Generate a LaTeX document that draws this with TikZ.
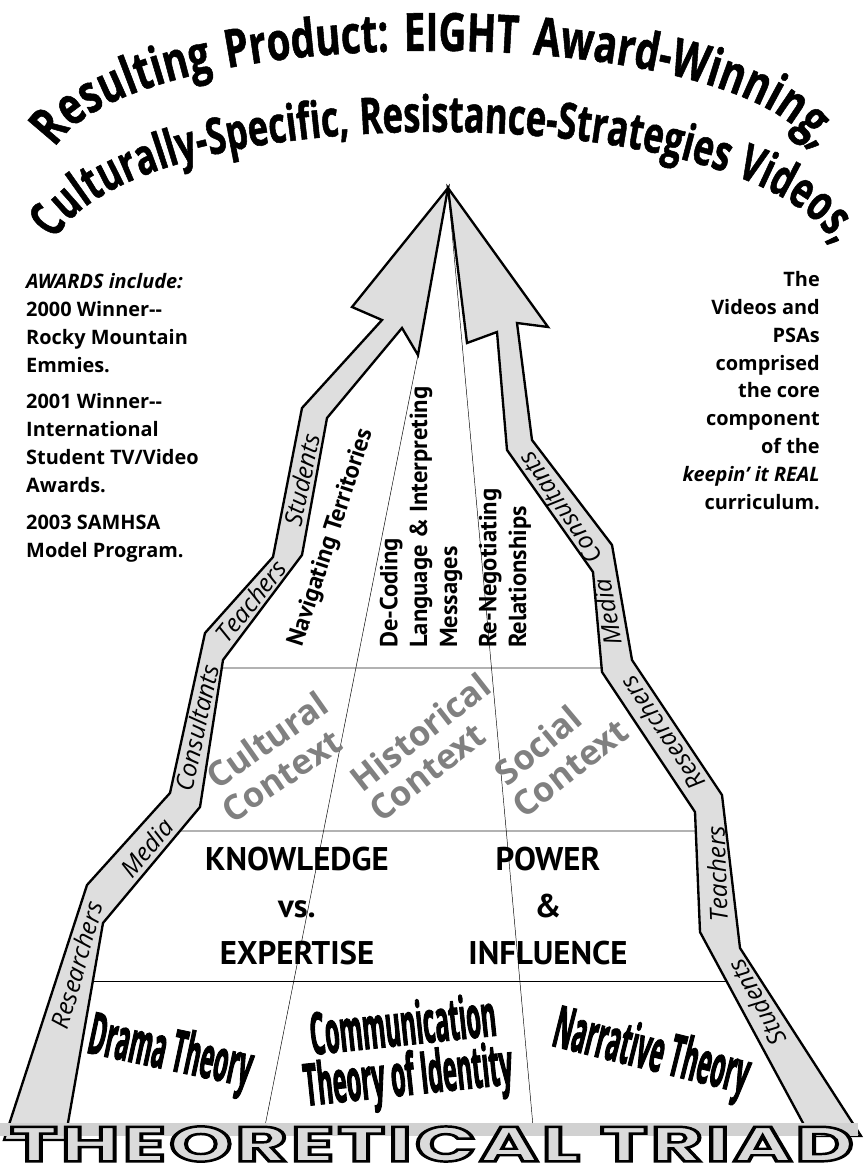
\documentclass[tikz,border=0pt]{standalone}
\usepackage{fontspec}
\usepackage{graphicx}
\usetikzlibrary{decorations.text}
\newfontfamily\plainsans{Open Sans}
\newfontfamily\myriad{PT Sans}
\newfontfamily\arcfont[FakeStretch=0.73, FakeBold=1]{Open Sans}
\newfontfamily\arcnarrow[FakeStretch=0.685, FakeBold=1]{Open Sans}
\newfontfamily\heavyfont[FakeStretch=0.4, FakeBold=1.5]{Open Sans}
\newfontfamily\triadfont[LetterSpace=4, FakeBold=5]{Poppins}
\newcommand\hollow[1]{\special{pdf:bcolor [0.86] [0]}#1\special{pdf:ecolor}}
\definecolor{ribbongray}{gray}{0.87}
\definecolor{bandgray}{gray}{0.82}
\definecolor{contextgray}{gray}{0.5}
\definecolor{rulegray}{gray}{0.7}

\begin{document}
\begin{tikzpicture}[x=0.3mm, y=-0.3mm,
  every node/.style={inner sep=0pt},
  ribbon/.style={draw=black, line width=2pt, line join=miter, fill=ribbongray},
  softrule/.style={draw=rulegray, line width=1.2pt},
  hardrule/.style={draw=black, line width=0.8pt},
  hairline/.style={draw=black, line width=0.4pt},
  sidetext/.style={font=\plainsans\bfseries\fontsize{17}{23.8}\selectfont},
  stage/.style={font=\myriad\bfseries\fontsize{21}{25.5}\selectfont},
  theme/.style={font=\myriad\bfseries\fontsize{28}{40}\selectfont},
  context/.style={font=\plainsans\bfseries\fontsize{29.5}{30}\selectfont, text=contextgray},
  theory/.style={font=\heavyfont\bfseries\fontsize{50}{42.7}\selectfont},
  crew/.style={font=\plainsans\itshape\fontsize{21}{21}\selectfont}]
\useasboundingbox (0,0) rectangle (865,1167);

\draw[softrule] (215,668) -- (605,668);
\draw[softrule] (175,831) -- (700,831);
\draw[hardrule] (85,981) -- (730,981);
\coordinate (tip) at (448,188);
\coordinate (barb) at (418,355);
\draw[hairline] (barb) -- (265,1126);
\draw[hairline] (tip) -- (533,1126);

\draw[ribbon] (4,1140) -- (87,885) -- (170,793) -- (205,633) -- (273,557) -- (302,408)
  -- (382,320) -- (352,307) -- (tip) -- (barb) -- (402,328) -- (327,418) -- (302,555)
  -- (223,660) -- (200,807) -- (103,923) -- (65,1140) -- cycle;
\draw[ribbon] (tip) -- (548,327) -- (517,323) -- (532,440) -- (612,545) -- (632,660)
  -- (722,795) -- (740,948) -- (861,1136) -- (810,1136) -- (700,932) -- (695,812)
  -- (602,672) -- (593,572) -- (507,450) -- (497,332) -- (467,343) -- cycle;

\fill[bandgray] (0,1123) rectangle (858,1136);
\node (triad) at (432,1144) {\resizebox{253mm}{10.5mm}{\triadfont\bfseries\fontsize{20}{20}\selectfont\hollow{THEORETICAL TRIAD}}};

\path[decorate, decoration={text along path, text align={fit to path stretching spaces},
  text={|\arcfont\bfseries\fontsize{45}{45}\selectfont|Resulting Product: EIGHT Award-Winning,}}]
  (55,148) .. controls (132,18) and (738,18) .. (815,150);
\path[decorate, decoration={text along path, text align={fit to path stretching spaces},
  text={|\arcnarrow\bfseries\fontsize{43}{43}\selectfont|Culturally-Specific, Resistance-Strategies Videos,}}]
  (55,240) .. controls (135,95) and (745,95) .. (835,245);

\node[sidetext, anchor=north west, align=left] (awards) at (26,273) {\textit{AWARDS include:}\\
  2000 Winner{-}{-}\\Rocky Mountain\\Emmies.\\[7.7pt]
  2001 Winner{-}{-}\\International\\Student TV/Video\\Awards.\\[7.7pt]
  2003 SAMHSA\\Model Program.};
\node[sidetext, anchor=north east, align=right] (videos) at (820,271) {The\\Videos and\\PSAs\\comprised\\the core\\component\\of the\\\textit{keepin’ it REAL}\\curriculum.};

\node[stage, rotate=72, anchor=west] (navigating) at (296,646) {Navigating Territories};
\node[stage, rotate=90, anchor=west, align=left] (decoding) at (421,648) {De-Coding\\Language \& Interpreting\\Messages};
\node[stage, rotate=90, anchor=west, align=left] (renegotiating) at (505,648) {Re-Negotiating\\Relationships};

\node[context, rotate=35] (cultural) at (267,740) {Cultural};
\node[context, rotate=34] (culturalctx) at (282,776) {Context};
\node[context, rotate=38] (historical) at (420,732) {Historical};
\node[context, rotate=38] (historicalctx) at (427,772) {Context};
\node[context, rotate=40] (social) at (538,745) {Social};
\node[context, rotate=38] (socialctx) at (570,768) {Context};

\node[theme, align=center] (knowledge) at (297,906) {KNOWLEDGE\\vs.\\EXPERTISE};
\node[theme, align=center] (power) at (548,906) {POWER\\\&\\INFLUENCE};

\node[theory, rotate=-12] (drama) at (170,1055) {Drama Theory};
\node[theory, rotate=6, align=center] (identity) at (406,1055) {Communication\\Theory of Identity};
\node[theory, rotate=-14] (narrative) at (651,1055) {Narrative Theory};

\node[crew, rotate=74] (lresearchers) at (77,965) {Researchers};
\node[crew, rotate=50] (lmedia) at (147,848) {Media};
\node[crew, rotate=78] (lconsultants) at (197,728) {Consultants};
\node[crew, rotate=51] (lteachers) at (251,601) {Teachers};
\node[crew, rotate=78] (lstudents) at (302,480) {Students};
\node[crew, rotate=119] (rstudents) at (757,1003) {Students};
\node[crew, rotate=92] (rteachers) at (717,874) {Teachers};
\node[crew, rotate=124] (rresearchers) at (662,733) {Researchers};
\node[crew, rotate=100] (rmedia) at (607,612) {Media};
\node[crew, rotate=124] (rconsultants) at (560,508) {Consultants};
\end{tikzpicture}
\end{document}
